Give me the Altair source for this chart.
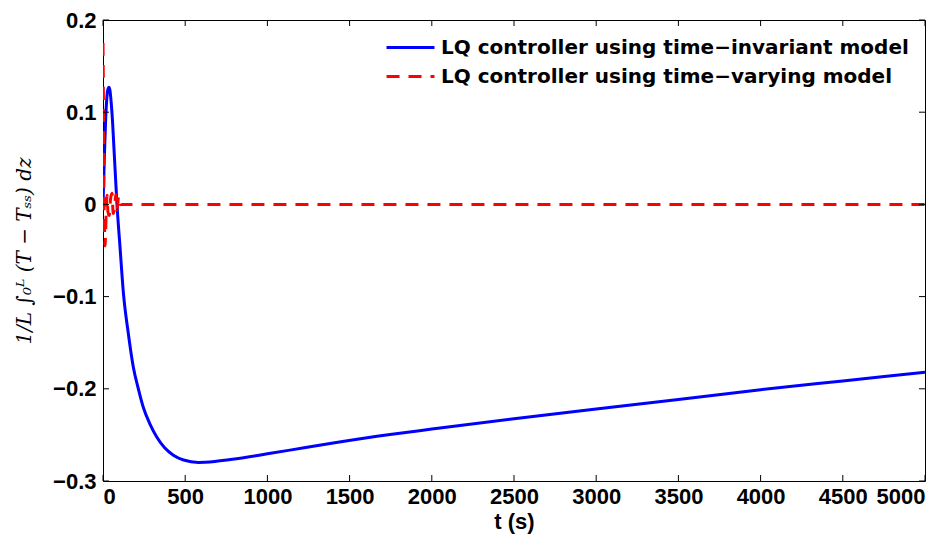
import altair as alt
import pandas as pd

# Controller responses: mean temperature deviation over the rod
SERIES_INV = "LQ controller using time\u2212invariant model"
SERIES_VAR = "LQ controller using time\u2212varying model"

t_inv = [0, 8, 16, 24, 30, 36, 42, 50, 58, 66, 75, 85, 103, 124, 154, 184, 215,
         245, 285, 326, 375, 428, 490, 580, 680, 800, 1000, 1137, 1400,
         1746, 2000, 2500, 3000, 3500, 4000, 4500, 5000]
y_inv = [0.0, 0.05, 0.092, 0.117, 0.125, 0.127, 0.124, 0.11, 0.09, 0.063, 0.033,
         0.0, -0.045, -0.096, -0.14, -0.176, -0.2, -0.22, -0.238, -0.252, -0.264,
         -0.272, -0.2772, -0.2798, -0.2788, -0.2762, -0.2705, -0.2665,
         -0.2587, -0.2495, -0.2437, -0.2325, -0.222, -0.2115, -0.201, -0.1915,
         -0.182]

t_var = [0, 2, 4, 6, 9, 12, 16, 20, 25, 30, 38, 46, 55, 62, 70, 78, 86, 95,
         105, 115, 5000]
y_var = [0.175, 0.13, 0.06, 0.0, -0.02, -0.045, -0.03, -0.005, 0.01, -0.008,
         -0.012, 0.006, 0.012, -0.01, -0.004, 0.011, -0.006, 0.009, 0.0, 0.0,
         0.0]

x_ticks = [0, 500, 1000, 1500, 2000, 2500, 3000, 3500, 4000, 4500, 5000]
y_ticks = [-0.3, -0.2, -0.1, 0.0, 0.1, 0.2]

W, H = 822, 461
TICK = 6
DASH = [13, 9]

df_inv = pd.DataFrame({"t": t_inv, "v": y_inv, "series": SERIES_INV, "order": range(len(t_inv))})
df_var = pd.DataFrame({"t": t_var, "v": y_var, "series": SERIES_VAR, "order": range(len(t_var))})

xscale = alt.Scale(domain=[0, 5000], nice=False, zero=False)
yscale = alt.Scale(domain=[-0.3, 0.2], nice=False, zero=False)

x_enc = alt.X("t:Q", scale=xscale,
              axis=alt.Axis(title="t (s)", values=x_ticks, format="d", tickSize=0,
                            domain=False, grid=False, labelPadding=5, titlePadding=4))
y_enc = alt.Y("v:Q", scale=yscale,
              axis=alt.Axis(title="1/L \u222b\u2080\u1d38 (T \u2212 T\u209b\u209b) dz",
                            values=y_ticks, format=".1~f", tickSize=0, domain=False,
                            grid=False, labelPadding=7, titlePadding=18))


def entry_legend(y, dash=None):
    opts = dict(title=None, orient="none", legendX=282, legendY=y,
                symbolType="stroke", symbolStrokeWidth=3, symbolSize=2300,
                labelFontSize=20, labelFont="DejaVu Sans", labelFontWeight="bold",
                labelColor="black", labelLimit=700, padding=0, labelOffset=5)
    if dash is not None:
        opts["symbolDash"] = dash
    return alt.Legend(**opts)


line_inv = alt.Chart(df_inv).mark_line(strokeWidth=3, interpolate="monotone", clip=True).encode(
    x=x_enc, y=y_enc,
    color=alt.Color("series:N", scale=alt.Scale(domain=[SERIES_INV], range=["#0000ff"]),
                    legend=entry_legend(2)),
    order="order:Q",
)

line_var = alt.Chart(df_var).mark_line(strokeWidth=3, strokeDash=DASH, interpolate="monotone",
                                       clip=True).encode(
    x=alt.X("t:Q", scale=xscale), y=alt.Y("v:Q", scale=yscale),
    stroke=alt.Stroke("series:N", scale=alt.Scale(domain=[SERIES_VAR], range=["#ff0000"]),
                      legend=entry_legend(31, DASH)),
    order="order:Q",
)

xt = pd.DataFrame({"t": x_ticks})
yt = pd.DataFrame({"v": y_ticks})

tick_bottom = alt.Chart(xt).mark_rule(color="black", strokeWidth=1).encode(
    x=alt.X("t:Q", scale=xscale), y=alt.value(H), y2=alt.value(H - TICK))
tick_top = alt.Chart(xt).mark_rule(color="black", strokeWidth=1).encode(
    x=alt.X("t:Q", scale=xscale), y=alt.value(0), y2=alt.value(TICK))
tick_left = alt.Chart(yt).mark_rule(color="black", strokeWidth=1).encode(
    y=alt.Y("v:Q", scale=yscale), x=alt.value(0), x2=alt.value(TICK))
tick_right = alt.Chart(yt).mark_rule(color="black", strokeWidth=1).encode(
    y=alt.Y("v:Q", scale=yscale), x=alt.value(W), x2=alt.value(W - TICK))

chart = alt.layer(line_inv, line_var, tick_bottom, tick_top, tick_left, tick_right).properties(
    width=W, height=H,
    autosize=alt.AutoSizeParams(type="none"),
    padding={"left": 103, "top": 20, "right": 5, "bottom": 61},
    background="white",
).configure_view(
    stroke="black", strokeWidth=1
).configure_axis(
    labelFont="Liberation Sans", labelFontWeight="bold", labelFontSize=22,
    labelColor="black", titleColor="black",
).configure_axisX(
    titleFont="Liberation Sans", titleFontWeight="bold", titleFontSize=22,
).configure_axisY(
    titleFont="DejaVu Serif", titleFontWeight="normal", titleFontSize=20,
    titleFontStyle="italic",
)

chart.save("out.html", embed_options={"renderer": "svg", "actions": False})
